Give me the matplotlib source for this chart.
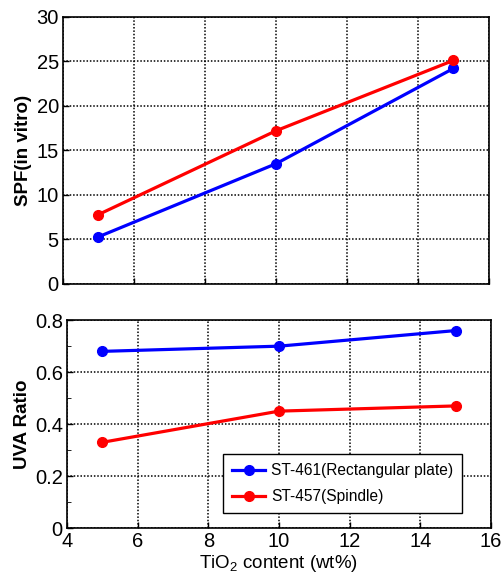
import numpy as np
import matplotlib
matplotlib.use("Agg")
import matplotlib.pyplot as plt
from matplotlib.ticker import MultipleLocator

plt.rcParams['font.family'] = ['Liberation Sans', 'DejaVu Sans']
plt.rcParams['mathtext.fontset'] = 'custom'
plt.rcParams['mathtext.rm'] = 'Liberation Sans'

tio2 = [5, 10, 15]
spf_rect = [5.3, 13.5, 24.2]
spf_spindle = [7.8, 17.2, 25.1]
uva_rect = [0.68, 0.70, 0.76]
uva_spindle = [0.33, 0.45, 0.47]
labels = ["ST-461(Rectangular plate)", "ST-457(Spindle)"]

fig = plt.figure(figsize=(5.04, 5.79), dpi=100)
ax1 = fig.add_axes([0.125, 0.5095, 0.845, 0.4615])
ax2 = fig.add_axes([0.133, 0.088, 0.841, 0.359])

for ax in (ax1, ax2):
    ax.grid(True, color='k', ls=(0, (1, 1.2)), lw=1.1)
    ax.set_xlim(4, 16)
    ax.xaxis.set_major_locator(MultipleLocator(2))
    ax.tick_params(direction='in', labelsize=14.5, length=4, width=1, pad=3)
    for s in ax.spines.values():
        s.set_linewidth(1.2)

ax1.plot(tio2, spf_rect, '-o', color='#0000ff', lw=2.3, ms=7)
ax1.plot(tio2, spf_spindle, '-o', color='#ff0000', lw=2.3, ms=7)
ax1.set_ylim(0, 30)
ax1.yaxis.set_major_locator(MultipleLocator(5))
ax1.set_xticklabels([])
ax1.set_ylabel("SPF(in vitro)", fontsize=13.5, fontweight='bold', labelpad=3)

ax2.plot(tio2, uva_rect, '-o', color='#0000ff', lw=2.3, ms=7, label=labels[0])
ax2.plot(tio2, uva_spindle, '-o', color='#ff0000', lw=2.3, ms=7, label=labels[1])
ax2.set_ylim(0, 0.8)
ax2.yaxis.set_major_locator(MultipleLocator(0.2))
ax2.yaxis.set_minor_locator(MultipleLocator(0.1))
ax2.tick_params(which='minor', direction='in', length=3, left=True)
ax2.set_yticks([0, 0.2, 0.4, 0.6, 0.8])
ax2.set_yticklabels(["0", "0.2", "0.4", "0.6", "0.8"])
ax2.set_ylabel("UVA Ratio", fontsize=13.5, fontweight='bold', labelpad=3)
ax2.set_xlabel("TiO$_2$ content (wt%)", fontsize=13.5, labelpad=1)
leg = ax2.legend(loc='lower left', bbox_to_anchor=(0.368, 0.07, 0.565, 0.285),
                 mode='expand', fontsize=11.2, fancybox=False, framealpha=1,
                 edgecolor='k', handlelength=2.1, handletextpad=0.4,
                 borderpad=0.6, labelspacing=0.7, borderaxespad=0)
leg.get_frame().set_linewidth(1.0)

fig.savefig("out.png", dpi=100)
